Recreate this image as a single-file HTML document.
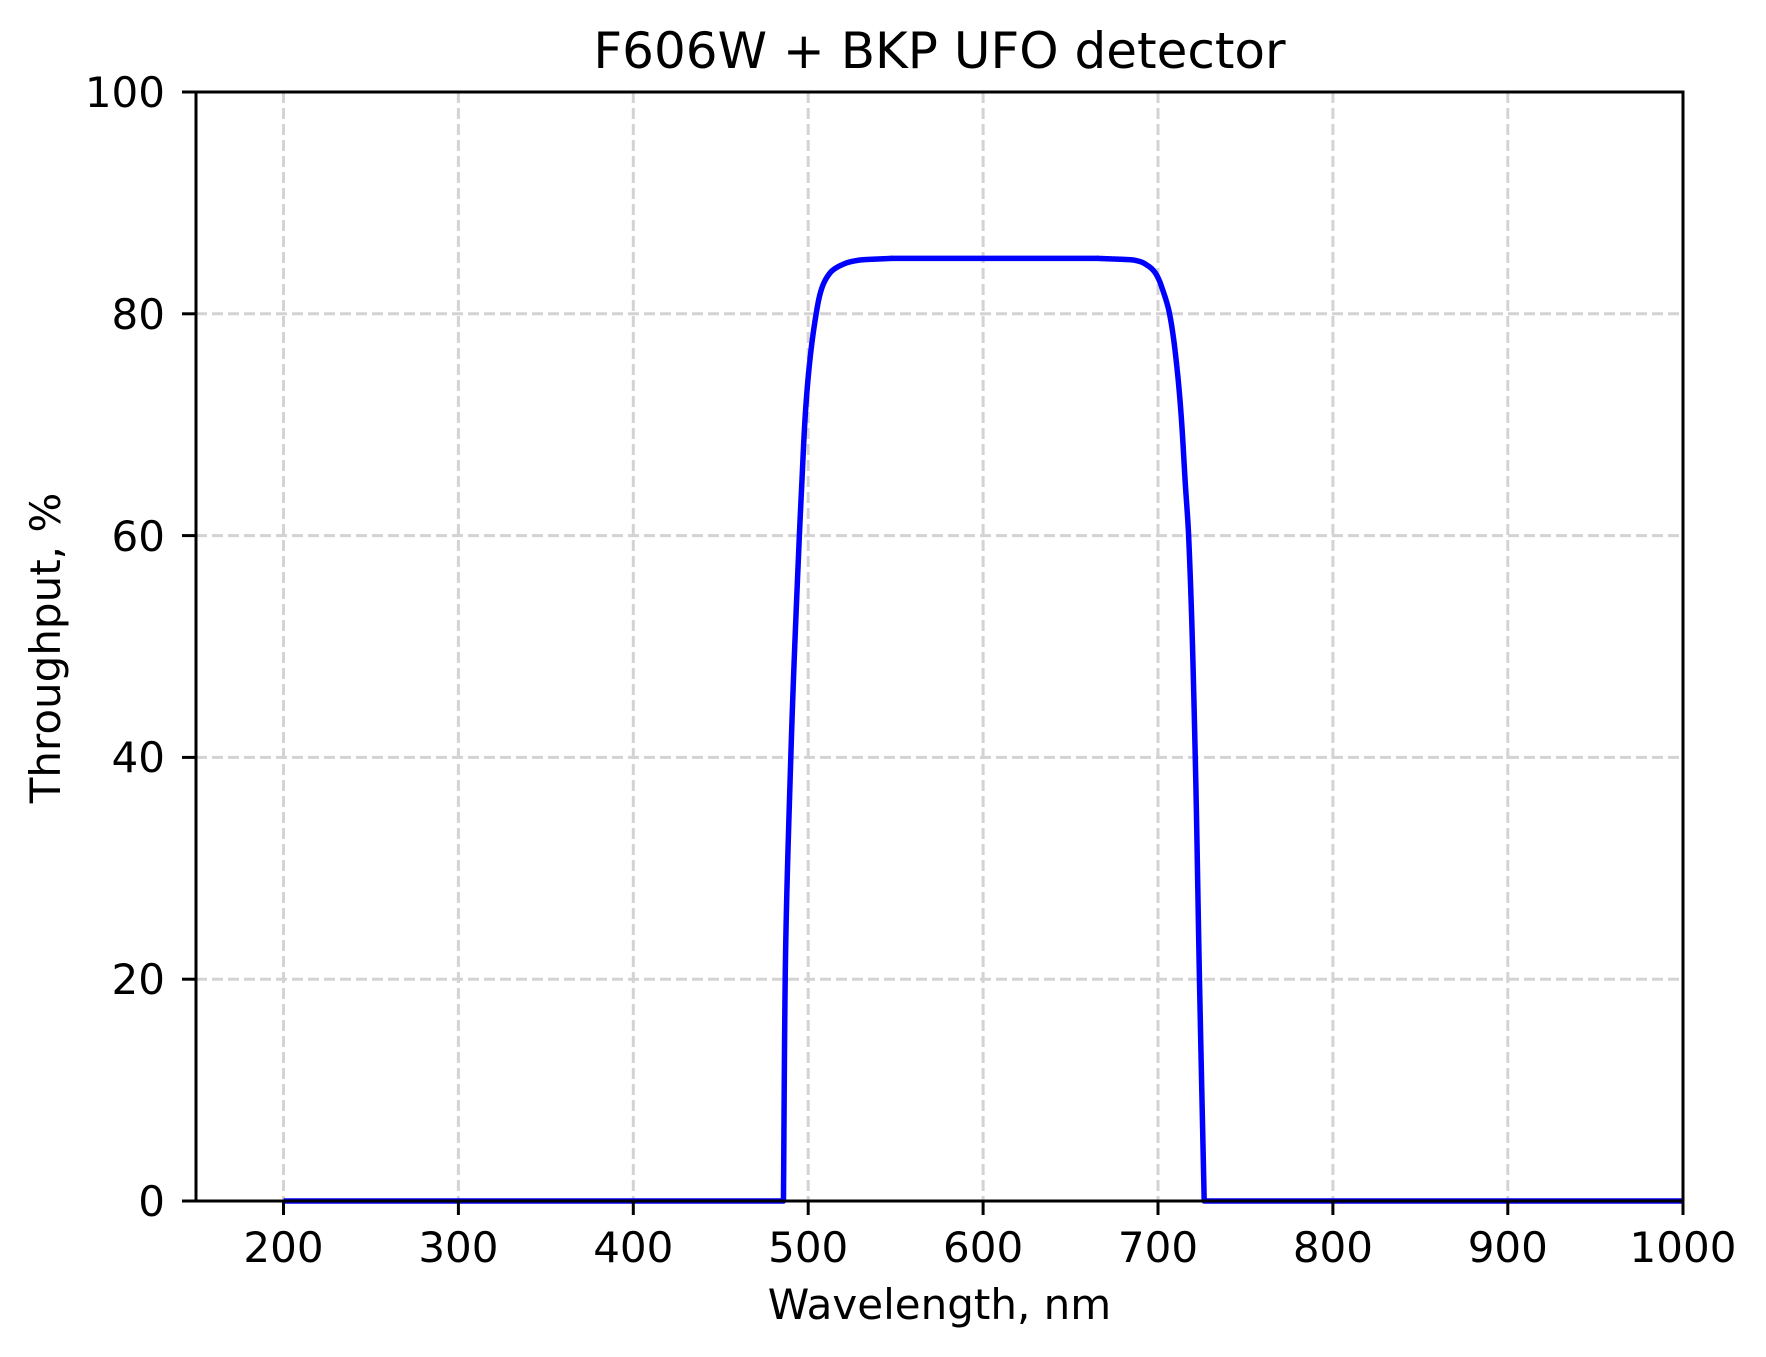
<!DOCTYPE html>
<html><head><meta charset="utf-8"><style>
html,body{margin:0;padding:0;background:#fff;}
svg{display:block;font-family:"DejaVu Sans","Liberation Sans",sans-serif;}
</style></head><body>
<svg width="1766" height="1357" viewBox="0 0 1766 1357" xmlns="http://www.w3.org/2000/svg">
<rect width="1766" height="1357" fill="#fff"/>
<g stroke="#d3d3d3" stroke-width="3" stroke-dasharray="11,5" fill="none">
<line x1="283.5" y1="92" x2="283.5" y2="1201"/>
<line x1="458.4" y1="92" x2="458.4" y2="1201"/>
<line x1="633.3" y1="92" x2="633.3" y2="1201"/>
<line x1="808.2" y1="92" x2="808.2" y2="1201"/>
<line x1="983.1" y1="92" x2="983.1" y2="1201"/>
<line x1="1158" y1="92" x2="1158" y2="1201"/>
<line x1="1332.9" y1="92" x2="1332.9" y2="1201"/>
<line x1="1507.8" y1="92" x2="1507.8" y2="1201"/>
<line x1="196" y1="979.2" x2="1683" y2="979.2"/>
<line x1="196" y1="757.4" x2="1683" y2="757.4"/>
<line x1="196" y1="535.6" x2="1683" y2="535.6"/>
<line x1="196" y1="313.8" x2="1683" y2="313.8"/>
</g>
<path id="curve" fill="none" stroke="#0000ff" stroke-width="5.5" stroke-linejoin="round"/>
<rect x="196" y="92" width="1487" height="1109" fill="none" stroke="#000" stroke-width="3"/>
<g stroke="#000" stroke-width="3">
<line x1="283.5" y1="1201" x2="283.5" y2="1215"/>
<line x1="458.4" y1="1201" x2="458.4" y2="1215"/>
<line x1="633.3" y1="1201" x2="633.3" y2="1215"/>
<line x1="808.2" y1="1201" x2="808.2" y2="1215"/>
<line x1="983.1" y1="1201" x2="983.1" y2="1215"/>
<line x1="1158" y1="1201" x2="1158" y2="1215"/>
<line x1="1332.9" y1="1201" x2="1332.9" y2="1215"/>
<line x1="1507.8" y1="1201" x2="1507.8" y2="1215"/>
<line x1="1683" y1="1201" x2="1683" y2="1215"/>
<line x1="182" y1="1201" x2="196" y2="1201"/>
<line x1="182" y1="979.2" x2="196" y2="979.2"/>
<line x1="182" y1="757.4" x2="196" y2="757.4"/>
<line x1="182" y1="535.6" x2="196" y2="535.6"/>
<line x1="182" y1="313.8" x2="196" y2="313.8"/>
<line x1="182" y1="92" x2="196" y2="92"/>
</g>
<g font-size="42" fill="#000" text-anchor="middle">
<text x="283.5" y="1262">200</text>
<text x="458.4" y="1262">300</text>
<text x="633.3" y="1262">400</text>
<text x="808.2" y="1262">500</text>
<text x="983.1" y="1262">600</text>
<text x="1158" y="1262">700</text>
<text x="1332.9" y="1262">800</text>
<text x="1507.8" y="1262">900</text>
<text x="1683" y="1262">1000</text>
</g>
<g font-size="42" fill="#000" text-anchor="end">
<text x="165" y="1216">0</text>
<text x="165" y="994">20</text>
<text x="165" y="772">40</text>
<text x="165" y="551">60</text>
<text x="165" y="329">80</text>
<text x="165" y="107">100</text>
</g>
<text x="939.5" y="1319" font-size="42" text-anchor="middle">Wavelength, nm</text>
<text transform="translate(60,648) rotate(-90)" font-size="42" text-anchor="middle">Throughput, %</text>
<text x="939.5" y="68" font-size="50" text-anchor="middle">F606W + BKP UFO detector</text>
</svg>
<script>
function mono(xs,ys){var n=xs.length,d=[],m=[];
for(var i=0;i<n-1;i++)d.push((ys[i+1]-ys[i])/(xs[i+1]-xs[i]));
m[0]=d[0];m[n-1]=d[n-2];
for(i=1;i<n-1;i++){if(d[i-1]*d[i]<=0)m[i]=0;else{var h0=xs[i]-xs[i-1],h1=xs[i+1]-xs[i];var w1=2*h1+h0,w2=h1+2*h0;m[i]=(w1+w2)/(w1/d[i-1]+w2/d[i]);}}
return function(x){var i=0;while(i<n-2&&x>xs[i+1])i++;var h=xs[i+1]-xs[i],t=(x-xs[i])/h,t2=t*t,t3=t2*t;
return (2*t3-3*t2+1)*ys[i]+(t3-2*t2+t)*h*m[i]+(-2*t3+3*t2)*ys[i+1]+(t3-t2)*h*m[i+1];};}
var T=[0,20,40,60,64.7,70.7,75.2,80,82.1,83.7,84.4,84.85,85];
var L=mono(T,[485.8,486.8,490,494.9,496.3,498.2,500.5,504.5,507.3,512.5,519,529.6,548]);
var R=mono(T,[726.3,723.6,721.2,717.4,715.5,713.2,710.7,706.5,702.7,698.3,693.5,685.8,665]);
function X(x){return 196+(x-150)*1487/850;}function Y(v){return 1201-v*11.09;}
var s='M'+X(200).toFixed(1)+','+Y(0).toFixed(1);
var N=1500,k,t;
function tt(k){var u=1-k/N;return 85*(1-u*u*u);}
for(k=0;k<=N;k++){t=tt(k);s+=' L'+X(L(t)).toFixed(2)+','+Y(t).toFixed(2);}
for(k=N;k>=0;k--){t=tt(k);s+=' L'+X(R(t)).toFixed(2)+','+Y(t).toFixed(2);}
s+=' L'+X(1000).toFixed(1)+','+Y(0).toFixed(1);
document.getElementById('curve').setAttribute('d',s);
</script>
</body></html>
